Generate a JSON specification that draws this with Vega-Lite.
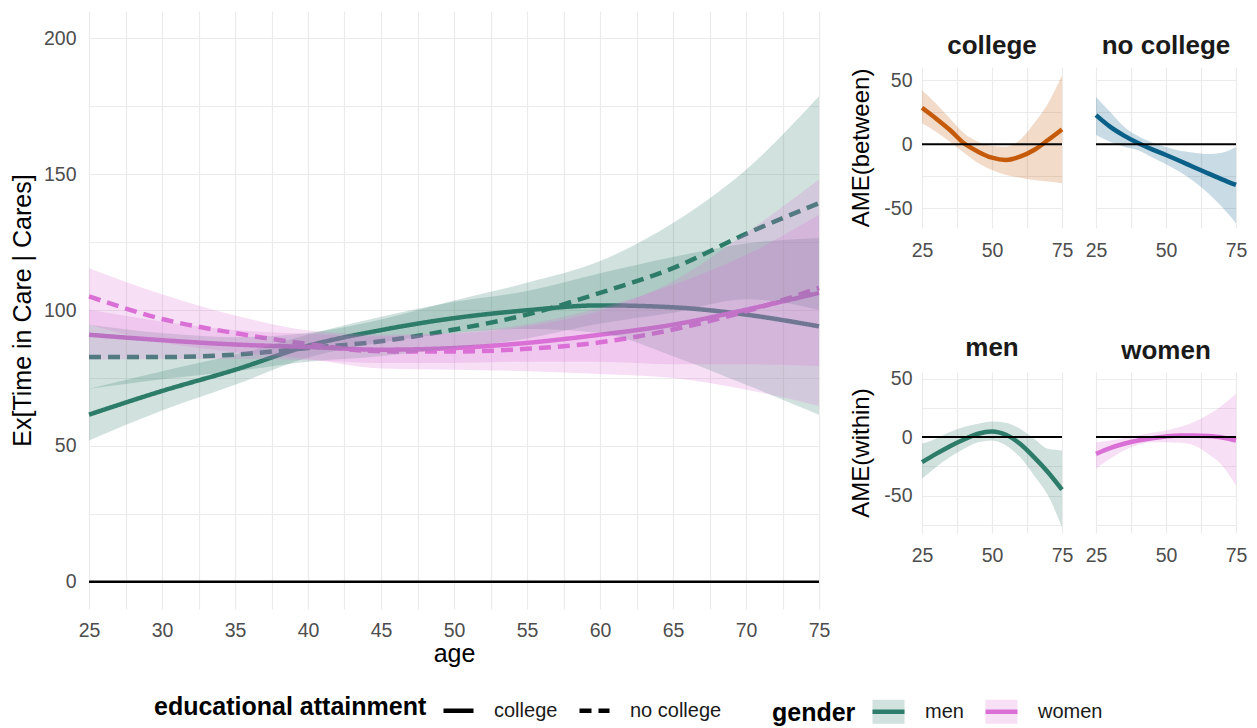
{
  "$schema": "https://vega.github.io/schema/vega-lite/v6.json",
  "background": "white",
  "padding": {"left": 10, "top": 8, "right": 5, "bottom": 2},
  "config": {
    "font": "Liberation Sans",
    "view": {"stroke": null},
    "axis": {"domain": false, "ticks": false, "grid": true, "gridColor": "#ebebeb", "gridWidth": 1.2, "labelColor": "#4d4d4d", "labelFontSize": 19.5, "titleFontSize": 25, "titleFontWeight": "normal", "titleColor": "#000000", "labelOverlap": false, "labelBound": false, "tickCount": 100},
    "title": {"fontSize": 26, "fontWeight": "bold", "color": "#1a1a1a", "frame": "group", "anchor": "middle", "offset": 8},
    "legend": {"orient": "bottom", "direction": "horizontal", "titleOrient": "left", "titleAnchor": "middle", "titleBaseline": "middle", "titleLimit": 600, "titleFontSize": 25, "titleFontWeight": "bold", "titleColor": "#000000", "labelFontSize": 20, "labelColor": "#1a1a1a", "offset": 26, "columnPadding": 12, "labelOffset": 18, "titlePadding": 14, "layout": {"bottom": {"anchor": "middle", "direction": "horizontal", "margin": 50}}}
  },
  "datasets": {
    "main": [
      {"gender": "men", "edu": "college", "age": 25, "est": 61.5, "lo": 52, "hi": 71},
      {"gender": "men", "edu": "college", "age": 30, "est": 70.2, "lo": 63, "hi": 77.5},
      {"gender": "men", "edu": "college", "age": 35, "est": 78, "lo": 72.5, "hi": 83.5},
      {"gender": "men", "edu": "college", "age": 40, "est": 86.8, "lo": 82.5, "hi": 91},
      {"gender": "men", "edu": "college", "age": 45, "est": 92.6, "lo": 88, "hi": 97.5},
      {"gender": "men", "edu": "college", "age": 50, "est": 97, "lo": 91.5, "hi": 103},
      {"gender": "men", "edu": "college", "age": 55, "est": 99.9, "lo": 93, "hi": 107},
      {"gender": "men", "edu": "college", "age": 60, "est": 101.7, "lo": 91.5, "hi": 113.5},
      {"gender": "men", "edu": "college", "age": 65, "est": 101, "lo": 83, "hi": 119.5},
      {"gender": "men", "edu": "college", "age": 70, "est": 98.3, "lo": 72.5, "hi": 124.5},
      {"gender": "men", "edu": "college", "age": 75, "est": 94, "lo": 61.5, "hi": 126.5},
      {"gender": "men", "edu": "no college", "age": 25, "est": 82.7, "lo": 71, "hi": 94.6},
      {"gender": "men", "edu": "no college", "age": 30, "est": 82.7, "lo": 74.5, "hi": 91.5},
      {"gender": "men", "edu": "no college", "age": 35, "est": 83.6, "lo": 77.5, "hi": 90},
      {"gender": "men", "edu": "no college", "age": 40, "est": 86, "lo": 81, "hi": 91.5},
      {"gender": "men", "edu": "no college", "age": 45, "est": 88.5, "lo": 83, "hi": 96.5},
      {"gender": "men", "edu": "no college", "age": 50, "est": 92.8, "lo": 86, "hi": 103.5},
      {"gender": "men", "edu": "no college", "age": 55, "est": 98.3, "lo": 89.5, "hi": 110},
      {"gender": "men", "edu": "no college", "age": 60, "est": 106.3, "lo": 95, "hi": 118},
      {"gender": "men", "edu": "no college", "age": 65, "est": 115.4, "lo": 99, "hi": 132},
      {"gender": "men", "edu": "no college", "age": 70, "est": 128, "lo": 104, "hi": 151.6},
      {"gender": "men", "edu": "no college", "age": 75, "est": 139.3, "lo": 100, "hi": 178.6},
      {"gender": "women", "edu": "college", "age": 25, "est": 90.9, "lo": 81.7, "hi": 100.1},
      {"gender": "women", "edu": "college", "age": 30, "est": 88.9, "lo": 82, "hi": 95.8},
      {"gender": "women", "edu": "college", "age": 35, "est": 87.3, "lo": 82, "hi": 92.6},
      {"gender": "women", "edu": "college", "age": 40, "est": 86.4, "lo": 81.5, "hi": 91.3},
      {"gender": "women", "edu": "college", "age": 45, "est": 85.4, "lo": 80.5, "hi": 90.3},
      {"gender": "women", "edu": "college", "age": 50, "est": 86, "lo": 80.5, "hi": 91.5},
      {"gender": "women", "edu": "college", "age": 55, "est": 87.9, "lo": 81, "hi": 94.8},
      {"gender": "women", "edu": "college", "age": 60, "est": 90.9, "lo": 81, "hi": 100.8},
      {"gender": "women", "edu": "college", "age": 65, "est": 94.6, "lo": 80, "hi": 109.2},
      {"gender": "women", "edu": "college", "age": 70, "est": 100.1, "lo": 80, "hi": 120.2},
      {"gender": "women", "edu": "college", "age": 75, "est": 106.3, "lo": 79.4, "hi": 135},
      {"gender": "women", "edu": "no college", "age": 25, "est": 105, "lo": 94.6, "hi": 115.4},
      {"gender": "women", "edu": "no college", "age": 30, "est": 96.7, "lo": 88, "hi": 105.8},
      {"gender": "women", "edu": "no college", "age": 35, "est": 91.5, "lo": 84.5, "hi": 98},
      {"gender": "women", "edu": "no college", "age": 40, "est": 87.5, "lo": 82, "hi": 92.5},
      {"gender": "women", "edu": "no college", "age": 45, "est": 84.8, "lo": 78.5, "hi": 91},
      {"gender": "women", "edu": "no college", "age": 50, "est": 84.7, "lo": 78, "hi": 91.4},
      {"gender": "women", "edu": "no college", "age": 55, "est": 85.7, "lo": 77.5, "hi": 94},
      {"gender": "women", "edu": "no college", "age": 60, "est": 88.1, "lo": 76.5, "hi": 99.7},
      {"gender": "women", "edu": "no college", "age": 65, "est": 92.8, "lo": 75, "hi": 110.6},
      {"gender": "women", "edu": "no college", "age": 70, "est": 99.5, "lo": 70.7, "hi": 128.3},
      {"gender": "women", "edu": "no college", "age": 75, "est": 108.1, "lo": 64.7, "hi": 148}
    ],
    "ame": [
      {"panel": "college", "age": 25, "est": 28.6, "lo": 16.4, "hi": 42.3},
      {"panel": "college", "age": 30, "est": 20.2, "lo": 9.9, "hi": 32},
      {"panel": "college", "age": 35, "est": 11.2, "lo": 2, "hi": 20.2},
      {"panel": "college", "age": 40, "est": 0.8, "lo": -6.5, "hi": 8.6},
      {"panel": "college", "age": 45, "est": -5.7, "lo": -14.5, "hi": 2.1},
      {"panel": "college", "age": 50, "est": -10.4, "lo": -20, "hi": -1.3},
      {"panel": "college", "age": 55, "est": -12.2, "lo": -23.9, "hi": -1.8},
      {"panel": "college", "age": 60, "est": -9.6, "lo": -26, "hi": 3.4},
      {"panel": "college", "age": 65, "est": -4.4, "lo": -27.8, "hi": 16.4},
      {"panel": "college", "age": 70, "est": 3.4, "lo": -29, "hi": 32},
      {"panel": "college", "age": 75, "est": 11.7, "lo": -30.4, "hi": 54},
      {"panel": "no college", "age": 25, "est": 22.8, "lo": 7.3, "hi": 37},
      {"panel": "no college", "age": 30, "est": 13.8, "lo": 2.1, "hi": 25.4},
      {"panel": "no college", "age": 35, "est": 6.8, "lo": -1.8, "hi": 13.8},
      {"panel": "no college", "age": 40, "est": 1, "lo": -4.5, "hi": 6.5},
      {"panel": "no college", "age": 45, "est": -3.9, "lo": -10, "hi": 1.5},
      {"panel": "no college", "age": 50, "est": -8.3, "lo": -15.5, "hi": -2},
      {"panel": "no college", "age": 55, "est": -13, "lo": -21.5, "hi": -5},
      {"panel": "no college", "age": 60, "est": -17.9, "lo": -29, "hi": -6.5},
      {"panel": "no college", "age": 65, "est": -22.6, "lo": -38, "hi": -7.5},
      {"panel": "no college", "age": 70, "est": -27.3, "lo": -49, "hi": -6.5},
      {"panel": "no college", "age": 75, "est": -31.7, "lo": -61.5, "hi": -2},
      {"panel": "men", "age": 25, "est": -21.4, "lo": -35.7, "hi": -5.7},
      {"panel": "men", "age": 30, "est": -14.3, "lo": -25.7, "hi": -1.4},
      {"panel": "men", "age": 35, "est": -7.7, "lo": -17.1, "hi": 4.3},
      {"panel": "men", "age": 40, "est": -2, "lo": -10, "hi": 8.6},
      {"panel": "men", "age": 45, "est": 2.9, "lo": -4.3, "hi": 11.4},
      {"panel": "men", "age": 50, "est": 4.9, "lo": -2.9, "hi": 13.4},
      {"panel": "men", "age": 55, "est": 2, "lo": -7.1, "hi": 12.3},
      {"panel": "men", "age": 60, "est": -5.7, "lo": -17.1, "hi": 7.1},
      {"panel": "men", "age": 65, "est": -17.1, "lo": -32.9, "hi": -1.4},
      {"panel": "men", "age": 70, "est": -30, "lo": -50, "hi": -10},
      {"panel": "men", "age": 75, "est": -44.9, "lo": -77.1, "hi": -11.4},
      {"panel": "women", "age": 25, "est": -14.3, "lo": -27.1, "hi": -4.3},
      {"panel": "women", "age": 30, "est": -9.4, "lo": -18.6, "hi": -2.9},
      {"panel": "women", "age": 35, "est": -5.7, "lo": -11.4, "hi": -0.9},
      {"panel": "women", "age": 40, "est": -2.9, "lo": -6.6, "hi": 1.4},
      {"panel": "women", "age": 45, "est": -0.9, "lo": -4.3, "hi": 3.7},
      {"panel": "women", "age": 50, "est": 0.6, "lo": -4.3, "hi": 5.7},
      {"panel": "women", "age": 55, "est": 1.4, "lo": -4.9, "hi": 8.6},
      {"panel": "women", "age": 60, "est": 1.4, "lo": -7.1, "hi": 12.9},
      {"panel": "women", "age": 65, "est": 0.9, "lo": -14.3, "hi": 19.1},
      {"panel": "women", "age": 70, "est": -0.3, "lo": -24.3, "hi": 27.1},
      {"panel": "women", "age": 75, "est": -2.9, "lo": -41.4, "hi": 37.1}
    ]
  },
  "spacing": 19,
  "hconcat": [
    {
      "width": 730,
      "height": 598,
      "layer": [
        {
          "data": {"values": [{"ref": 0}]},
          "mark": {"type": "rule", "color": "black", "strokeWidth": 2.5},
          "encoding": {"y": {"field": "ref", "type": "quantitative", "scale": {"domain": [-10, 210], "nice": false, "zero": false},
            "axis": {"title": "Ex[Time in Care | Cares]", "values": [0, 25, 50, 75, 100, 125, 150, 175, 200], "labelExpr": "datum.value % 50 === 0 ? '' + datum.value : ''", "labelPadding": 13, "titlePadding": 8}}}
        },
        {
          "data": {"name": "main"},
          "mark": {"type": "line", "strokeWidth": 4.5, "interpolate": "monotone"},
          "encoding": {
            "x": {"field": "age", "type": "quantitative", "scale": {"domain": [25, 75], "nice": false, "zero": false},
              "axis": {"title": "age", "values": [25, 27.5, 30, 32.5, 35, 37.5, 40, 42.5, 45, 47.5, 50, 52.5, 55, 57.5, 60, 62.5, 65, 67.5, 70, 72.5, 75], "labelExpr": "datum.value % 5 === 0 ? '' + datum.value : ''", "labelFlush": false, "labelPadding": 12, "titlePadding": 2}},
            "y": {"field": "est", "type": "quantitative", "scale": {"domain": [-10, 210], "nice": false, "zero": false},
              "axis": {"title": "Ex[Time in Care | Cares]", "values": [0, 25, 50, 75, 100, 125, 150, 175, 200], "labelExpr": "datum.value % 50 === 0 ? '' + datum.value : ''", "labelPadding": 13, "titlePadding": 8}},
            "color": {"field": "gender", "type": "nominal", "scale": {"range": ["#2e7d6b", "#da70d6"]}, "legend": null},
            "strokeDash": {"field": "edu", "type": "nominal", "scale": {"domain": ["college", "no college"], "range": [[1, 0], [12, 7]]},
              "legend": {"title": "educational attainment", "symbolType": "stroke", "symbolSize": 900, "symbolStrokeColor": "black", "symbolStrokeWidth": 4.5}}
          }
        },
        {
          "data": {"name": "main"},
          "mark": {"type": "area", "opacity": 0.22, "interpolate": "monotone"},
          "encoding": {
            "x": {"field": "age", "type": "quantitative", "scale": {"domain": [25, 75], "nice": false, "zero": false},
              "axis": {"title": "age", "values": [25, 27.5, 30, 32.5, 35, 37.5, 40, 42.5, 45, 47.5, 50, 52.5, 55, 57.5, 60, 62.5, 65, 67.5, 70, 72.5, 75], "labelExpr": "datum.value % 5 === 0 ? '' + datum.value : ''", "labelFlush": false, "labelPadding": 12, "titlePadding": 2}},
            "y": {"field": "lo", "type": "quantitative", "scale": {"domain": [-10, 210], "nice": false, "zero": false},
              "axis": {"title": "Ex[Time in Care | Cares]", "values": [0, 25, 50, 75, 100, 125, 150, 175, 200], "labelExpr": "datum.value % 50 === 0 ? '' + datum.value : ''", "labelPadding": 13, "titlePadding": 8}},
            "y2": {"field": "hi"},
            "detail": {"field": "edu", "type": "nominal"},
            "fill": {"field": "gender", "type": "nominal", "scale": {"domain": ["men", "women"], "range": ["#2e7d6b", "#da70d6"]},
              "legend": {"title": "gender", "symbolType": "M-1,0H1V-0.75H-1V0.75H1V0Z", "symbolSize": 1024, "symbolDash": [32, 112], "symbolStrokeWidth": 4.5, "symbolOpacity": 1,
                "encode": {"symbols": {"update": {"stroke": {"scale": "fill", "field": "value"}, "fillOpacity": {"value": 0.22}, "opacity": {"value": 1}}}}}}
          }
        }
      ]
    },
    {
      "spacing": 18,
      "vconcat": [
        {
          "width": 140, "height": 1,
          "data": {"values": [{"s": 0}]},
          "mark": {"type": "point", "opacity": 0},
          "encoding": {}
        },
        {
          "spacing": 74,
          "vconcat": [
            {
              "spacing": 12,
              "hconcat": [
                {
                  "width": 140, "height": 161,
                  "title": {"text": "college"},
                  "data": {"name": "ame"},
                  "transform": [{"filter": "datum.panel === 'college'"}],
                  "encoding": {
                    "x": {"field": "age", "type": "quantitative", "scale": {"domain": [25, 75], "nice": false, "zero": false}, "axis": {"title": null, "values": [25, 37.5, 50, 62.5, 75], "labelExpr": "datum.value % 25 === 0 ? '' + datum.value : ''", "labelFlush": false, "labelPadding": 13}}
                  },
                  "layer": [
                    {"mark": {"type": "line", "color": "#c65a0b", "strokeWidth": 4.5, "interpolate": "monotone"},
                      "encoding": {"y": {"field": "est", "type": "quantitative", "scale": {"domain": [-65.3, 60.4], "nice": false, "zero": false}, "axis": {"title": "AME(between)", "titleFontSize": 24, "values": [-50, -25, 0, 25, 50], "labelExpr": "datum.value % 50 === 0 ? '' + datum.value : ''", "labelPadding": 10, "titlePadding": 10}}}},
                    {"mark": {"type": "area", "color": "#c65a0b", "opacity": 0.22, "interpolate": "monotone"},
                      "encoding": {"y": {"field": "lo", "type": "quantitative", "scale": {"domain": [-65.3, 60.4], "nice": false, "zero": false}, "axis": {"title": "AME(between)", "titleFontSize": 24, "values": [-50, -25, 0, 25, 50], "labelExpr": "datum.value % 50 === 0 ? '' + datum.value : ''", "labelPadding": 10, "titlePadding": 10}}, "y2": {"field": "hi"}}},
                    {"mark": {"type": "rule", "color": "black", "strokeWidth": 2},
                      "encoding": {"x": {"aggregate": "min", "field": "age", "type": "quantitative"}, "x2": {"aggregate": "max", "field": "age"}, "y": {"datum": 0, "type": "quantitative"}}}
                  ]
                },
                {
                  "width": 140, "height": 161,
                  "title": {"text": "no college"},
                  "data": {"name": "ame"},
                  "transform": [{"filter": "datum.panel === 'no college'"}],
                  "encoding": {
                    "x": {"field": "age", "type": "quantitative", "scale": {"domain": [25, 75], "nice": false, "zero": false}, "axis": {"title": null, "values": [25, 37.5, 50, 62.5, 75], "labelExpr": "datum.value % 25 === 0 ? '' + datum.value : ''", "labelFlush": false, "labelPadding": 13}}
                  },
                  "layer": [
                    {"mark": {"type": "line", "color": "#0b6188", "strokeWidth": 4.5, "interpolate": "monotone"},
                      "encoding": {"y": {"field": "est", "type": "quantitative", "scale": {"domain": [-65.3, 60.4], "nice": false, "zero": false}, "axis": {"title": null, "labels": false, "values": [-50, -25, 0, 25, 50]}}}},
                    {"mark": {"type": "area", "color": "#0b6188", "opacity": 0.22, "interpolate": "monotone"},
                      "encoding": {"y": {"field": "lo", "type": "quantitative", "scale": {"domain": [-65.3, 60.4], "nice": false, "zero": false}, "axis": {"title": null, "labels": false, "values": [-50, -25, 0, 25, 50]}}, "y2": {"field": "hi"}}},
                    {"mark": {"type": "rule", "color": "black", "strokeWidth": 2},
                      "encoding": {"x": {"aggregate": "min", "field": "age", "type": "quantitative"}, "x2": {"aggregate": "max", "field": "age"}, "y": {"datum": 0, "type": "quantitative"}}}
                  ]
                }
              ]
            },
            {
              "spacing": 12,
              "hconcat": [
                {
                  "width": 140, "height": 161,
                  "title": {"text": "men"},
                  "data": {"name": "ame"},
                  "transform": [{"filter": "datum.panel === 'men'"}],
                  "encoding": {
                    "x": {"field": "age", "type": "quantitative", "scale": {"domain": [25, 75], "nice": false, "zero": false}, "axis": {"title": null, "values": [25, 37.5, 50, 62.5, 75], "labelExpr": "datum.value % 25 === 0 ? '' + datum.value : ''", "labelFlush": false, "labelPadding": 13}}
                  },
                  "layer": [
                    {"mark": {"type": "line", "color": "#2e7d6b", "strokeWidth": 4.5, "interpolate": "monotone"},
                      "encoding": {"y": {"field": "est", "type": "quantitative", "scale": {"domain": [-82, 55.7], "nice": false, "zero": false}, "axis": {"title": "AME(within)", "titleFontSize": 24, "values": [-75, -50, -25, 0, 25, 50], "labelExpr": "datum.value % 50 === 0 ? '' + datum.value : ''", "labelPadding": 10, "titlePadding": 10}}}},
                    {"mark": {"type": "area", "color": "#2e7d6b", "opacity": 0.22, "interpolate": "monotone"},
                      "encoding": {"y": {"field": "lo", "type": "quantitative", "scale": {"domain": [-82, 55.7], "nice": false, "zero": false}, "axis": {"title": "AME(within)", "titleFontSize": 24, "values": [-75, -50, -25, 0, 25, 50], "labelExpr": "datum.value % 50 === 0 ? '' + datum.value : ''", "labelPadding": 10, "titlePadding": 10}}, "y2": {"field": "hi"}}},
                    {"mark": {"type": "rule", "color": "black", "strokeWidth": 2},
                      "encoding": {"x": {"aggregate": "min", "field": "age", "type": "quantitative"}, "x2": {"aggregate": "max", "field": "age"}, "y": {"datum": 0, "type": "quantitative"}}}
                  ]
                },
                {
                  "width": 140, "height": 161,
                  "title": {"text": "women"},
                  "data": {"name": "ame"},
                  "transform": [{"filter": "datum.panel === 'women'"}],
                  "encoding": {
                    "x": {"field": "age", "type": "quantitative", "scale": {"domain": [25, 75], "nice": false, "zero": false}, "axis": {"title": null, "values": [25, 37.5, 50, 62.5, 75], "labelExpr": "datum.value % 25 === 0 ? '' + datum.value : ''", "labelFlush": false, "labelPadding": 13}}
                  },
                  "layer": [
                    {"mark": {"type": "line", "color": "#da70d6", "strokeWidth": 4.5, "interpolate": "monotone"},
                      "encoding": {"y": {"field": "est", "type": "quantitative", "scale": {"domain": [-82, 55.7], "nice": false, "zero": false}, "axis": {"title": null, "labels": false, "values": [-75, -50, -25, 0, 25, 50]}}}},
                    {"mark": {"type": "area", "color": "#da70d6", "opacity": 0.22, "interpolate": "monotone"},
                      "encoding": {"y": {"field": "lo", "type": "quantitative", "scale": {"domain": [-82, 55.7], "nice": false, "zero": false}, "axis": {"title": null, "labels": false, "values": [-75, -50, -25, 0, 25, 50]}}, "y2": {"field": "hi"}}},
                    {"mark": {"type": "rule", "color": "black", "strokeWidth": 2},
                      "encoding": {"x": {"aggregate": "min", "field": "age", "type": "quantitative"}, "x2": {"aggregate": "max", "field": "age"}, "y": {"datum": 0, "type": "quantitative"}}}
                  ]
                }
              ]
            }
          ]
        }
      ]
    }
  ]
}
